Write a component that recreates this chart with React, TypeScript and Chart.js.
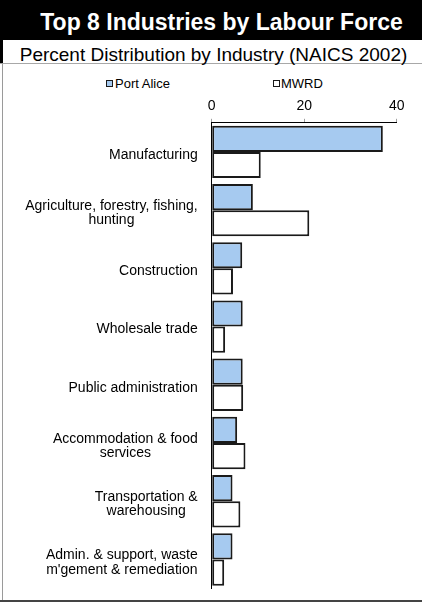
import React, { useEffect, useRef } from "react";
import { Chart, registerables } from "chart.js";

Chart.register(...registerables);

const categories: string[][] = [
  ["Manufacturing"],
  ["Agriculture, forestry, fishing,", "hunting"],
  ["Construction"],
  ["Wholesale trade"],
  ["Public administration"],
  ["Accommodation & food", "services"],
  ["Transportation &", "warehousing"],
  ["Admin. & support, waste", "m'gement & remediation"],
];
const seriesNames = ["Port Alice", "MWRD"];
const portAlice = [37.0, 8.9, 6.6, 6.7, 6.7, 5.5, 4.5, 4.5];
const mwrd = [10.6, 21.1, 4.6, 2.9, 6.8, 7.3, 6.2, 2.7];
const xMin = 0;
const xMax = 40;
const xStep = 20;

const FONT = '"Liberation Sans", Arial, Helvetica, sans-serif';
const BLUE = "#A6CAF0";
const BORDER = "#1a1a1a";

const labelPlugin = {
  id: "centeredBlockLabels",
  afterDraw(chart: any) {
    const y = chart.scales.y;
    const ctx = chart.ctx;
    ctx.save();
    ctx.font = `14px ${FONT}`;
    ctx.fillStyle = "#000";
    ctx.textAlign = "center";
    ctx.textBaseline = "middle";
    const right = y.right - 14;
    categories.forEach((lines, i) => {
      const py = y.getPixelForTick(i) + 3;
      const w = Math.max(...lines.map((l) => ctx.measureText(l).width));
      const cx = right - w / 2;
      lines.forEach((l, j) => {
        ctx.fillText(l, cx, py + (j - (lines.length - 1) / 2) * 14.5);
      });
    });
    ctx.restore();
  },
};

export default function App() {
  const ref = useRef<HTMLCanvasElement | null>(null);

  useEffect(() => {
    if (!ref.current) return;
    const chart = new Chart(ref.current, {
      type: "bar",
      data: {
        labels: categories.map((c) => c.join(" ")),
        datasets: [
          {
            label: seriesNames[0],
            data: portAlice,
            backgroundColor: BLUE,
            borderColor: BORDER,
            borderWidth: 2,
            borderSkipped: false,
            categoryPercentage: 0.9,
            barPercentage: 1.0,
          },
          {
            label: seriesNames[1],
            data: mwrd,
            backgroundColor: "#ffffff",
            borderColor: BORDER,
            borderWidth: 2,
            borderSkipped: false,
            categoryPercentage: 0.9,
            barPercentage: 1.0,
          },
        ],
      },
      options: {
        indexAxis: "y",
        animation: false,
        responsive: false,
        maintainAspectRatio: false,
        layout: { padding: { top: 30, bottom: 11, left: 0, right: 25.3 } },
        plugins: {
          legend: { display: false },
          tooltip: { enabled: false },
        },
        scales: {
          x: {
            position: "top",
            min: xMin,
            max: xMax,
            ticks: {
              stepSize: xStep,
              color: "#000",
              font: { family: FONT, size: 14 },
              padding: 4,
            },
            grid: {
              drawOnChartArea: false,
              drawTicks: true,
              tickLength: 4,
              color: "#a0a0a0",
            },
            border: { color: "#000", width: 1 },
          },
          y: {
            ticks: { color: "rgba(0,0,0,0)", font: { family: FONT, size: 14 } },
            grid: { display: false },
            border: { color: "#000", width: 1 },
            afterFit: (scale: any) => {
              scale.width = 208.7;
            },
          },
        },
      },
      plugins: [labelPlugin],
    });
    return () => chart.destroy();
  }, []);

  return (
    <div
      style={{
        position: "absolute",
        left: 0,
        top: 0,
        width: 422,
        height: 603,
        background: "#fff",
        fontFamily: FONT,
        overflow: "hidden",
      }}
    >
      <div style={{ position: "absolute", left: 0, top: 0, width: 422, height: 40, background: "#000" }} />
      <div
        style={{
          position: "absolute",
          left: 21,
          width: 401,
          top: 10.5,
          textAlign: "center",
          color: "#fff",
          fontWeight: "bold",
          fontSize: 23,
          lineHeight: "23px",
          whiteSpace: "nowrap",
        }}
      >
        Top 8 Industries by Labour Force
      </div>
      <div style={{ position: "absolute", left: 0, top: 40, width: 3, height: 24, background: "#000" }} />
      <div style={{ position: "absolute", left: 0, top: 63, width: 422, height: 1, background: "#a8a8a8" }} />
      <div
        style={{
          position: "absolute",
          left: 5,
          width: 417,
          top: 44.9,
          textAlign: "center",
          color: "#000",
          fontSize: 19,
          lineHeight: "19px",
          whiteSpace: "nowrap",
        }}
      >
        Percent Distribution by Industry (NAICS 2002)
      </div>
      <div style={{ position: "absolute", left: 2, top: 64, width: 1, height: 536, background: "#9a9a9a" }} />
      <div style={{ position: "absolute", left: 0, top: 600, width: 422, height: 2, background: "#444" }} />
      <div
        style={{
          position: "absolute",
          left: 106,
          top: 80,
          width: 5,
          height: 5,
          background: BLUE,
          border: `1px solid ${BORDER}`,
        }}
      />
      <div style={{ position: "absolute", left: 115, top: 77, fontSize: 13, lineHeight: "13px", whiteSpace: "nowrap" }}>
        {seriesNames[0]}
      </div>
      <div
        style={{
          position: "absolute",
          left: 273,
          top: 80,
          width: 5,
          height: 5,
          background: "#fff",
          border: `1px solid ${BORDER}`,
        }}
      />
      <div style={{ position: "absolute", left: 281, top: 77, fontSize: 13, lineHeight: "13px", whiteSpace: "nowrap" }}>
        {seriesNames[1]}
      </div>
      <canvas
        ref={ref}
        width={419}
        height={536}
        style={{ position: "absolute", left: 3, top: 64, width: 419, height: 536 }}
      />
    </div>
  );
}
